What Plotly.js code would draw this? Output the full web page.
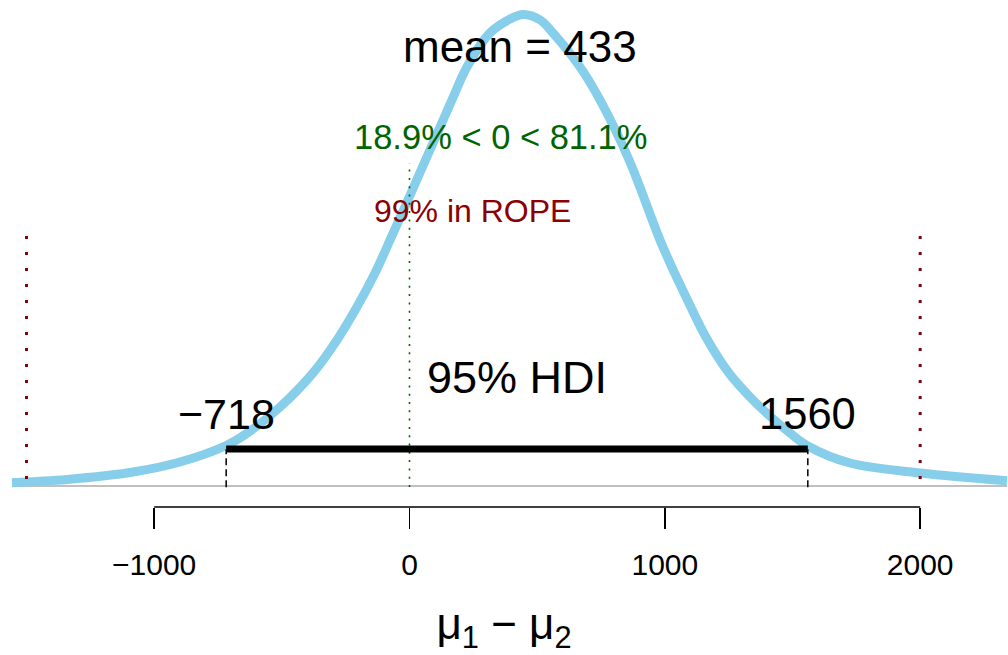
<!DOCTYPE html>
<html><head><meta charset="utf-8">
<script src="https://cdn.plot.ly/plotly-3.0.1.min.js"></script>
<style>html,body{margin:0;padding:0;background:#fff}#chart{width:1008px;height:655px}</style>
</head><body><div id="chart"></div>
<script>
// posterior of mu1 - mu2
const diffValues = [-1557,-1341,-1083,-899,-718,-625,-507,-378,-284,-206,-135,-76,-6,80,166,225,315,394,445,512,562,668,746,860,981,1038,1097,1160,1251,1334,1420,1490,1560,1725,2000,2340];
const density = [4.8e-6,9.5e-6,2.04e-5,3.50e-5,5.91e-5,8.0e-5,1.153e-4,1.650e-4,2.132e-4,2.613e-4,3.110e-4,3.592e-4,4.176e-4,4.906e-4,5.636e-4,6.117e-4,6.614e-4,6.818e-4,6.884e-4,6.804e-4,6.614e-4,6.117e-4,5.636e-4,4.760e-4,3.592e-4,3.110e-4,2.650e-4,2.180e-4,1.650e-4,1.299e-4,9.93e-5,7.74e-5,5.84e-5,3.36e-5,1.90e-5,7.7e-6];
const meanValue = 433;
const hdi = [-718, 1560];
const compVal = 0;
const rope = [-1500, 2000];
const pctBelow = 18.9, pctAbove = 81.1, pctInRope = 99;
const tickValues = [-1000, 0, 1000, 2000];
const tickLabels = ['\u22121000', '0', '1000', '2000'];

const FONT = 'Liberation Sans, Arial, Helvetica, sans-serif';
const k = 1.46e-6; // density per pixel of plot height
const trace = {
  x: diffValues, y: density, type: 'scatter', mode: 'lines',
  line: {color: '#87CEEB', width: 9, shape: 'spline', smoothing: 1},
  hoverinfo: 'skip'
};
const fmt = v => (v < 0 ? '\u2212' + Math.abs(v) : String(v));
const shapes = [
  {type:'line', xref:'x', yref:'y', x0:diffValues[0], x1:diffValues[diffValues.length-1], y0:0, y1:0, line:{color:'#c0c0c0', width:2}, layer:'below'},
  {type:'line', xref:'x', yref:'paper', x0:tickValues[0], x1:tickValues[tickValues.length-1], y0:0, y1:0, line:{color:'#000', width:1.5}},
  {type:'line', xref:'x', yref:'paper', x0:compVal, x1:compVal, y0:0.0394, y1:0.6785, line:{color:'#006400', width:1.6, dash:'2px,6.3px'}},
  {type:'line', xref:'x', yref:'paper', x0:rope[0], x1:rope[0], y0:0.055, y1:0.545, line:{color:'#8B0000', width:3, dash:'3px,13px'}},
  {type:'line', xref:'x', yref:'paper', x0:rope[1], x1:rope[1], y0:0.055, y1:0.545, line:{color:'#8B0000', width:3, dash:'3px,13px'}},
  {type:'line', xref:'x', yref:'paper', x0:hdi[0], x1:hdi[0], y0:0.039, y1:0.114, line:{color:'#000', width:1.5, dash:'7px,4px'}},
  {type:'line', xref:'x', yref:'paper', x0:hdi[1], x1:hdi[1], y0:0.039, y1:0.114, line:{color:'#000', width:1.5, dash:'7px,4px'}},
  {type:'line', xref:'x', yref:'paper', x0:hdi[0], x1:hdi[1], y0:0.1144, y1:0.1144, line:{color:'#000', width:7}}
];
const ann = (x, y, text, size, color) => ({xref:'x', yref:'paper', x:x, y:y, text:text, showarrow:false, xanchor:'center', yanchor:'middle', font:{family:FONT, size:size, color:color}});
const annotations = [
  ann(meanValue, 0.909, 'mean = ' + meanValue, 44, '#000'),
  ann(358, 0.7298, pctBelow + '% < ' + compVal + ' < ' + pctAbove + '%', 34.5, '#006400'),
  ann(248, 0.5848, pctInRope + '% in ROPE', 32, '#8B0000'),
  ann((hdi[0] + hdi[1]) / 2, 0.2564, '95% HDI', 45, '#000'),
  ann(hdi[0], 0.1834, fmt(hdi[0]), 43, '#000'),
  ann(hdi[1], 0.1834, fmt(hdi[1]), 43.5, '#000')
];
const layout = {
  width: 1008, height: 655,
  margin: {l: 0, r: 0, t: 0, b: 148, pad: 0},
  paper_bgcolor: '#fff', plot_bgcolor: '#fff',
  showlegend: false,
  xaxis: {
    range: [-1603.8, 2344.0], showgrid: false, zeroline: false, showline: false,
    tickmode: 'array', tickvals: tickValues, ticktext: tickLabels,
    ticks: 'outside', ticklen: 21, tickwidth: 1.5, tickcolor: '#000',
    ticklabelstandoff: 10,
    tickfont: {family: FONT, size: 30, color: '#000'},
    title: {text: '\u03bc<sub>1</sub> \u2212 \u03bc<sub>2</sub>', font: {family: FONT, size: 44, color: '#000'}, standoff: 38}
  },
  yaxis: {range: [-21 * k, 486 * k], visible: false, showgrid: false, zeroline: false},
  shapes: shapes, annotations: annotations
};
Plotly.newPlot('chart', [trace], layout, {staticPlot: true, displayModeBar: false});
</script></body></html>
